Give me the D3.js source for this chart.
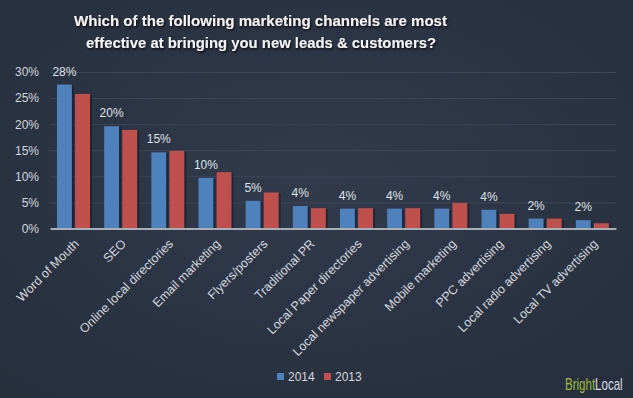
<!DOCTYPE html>
<meta charset="utf-8">
<style>
    body { margin: 0; background: #2c3546; }
    svg { display: block; }
    .grid line { stroke: #3d4759; stroke-width: 1; }
    .grid path { display: none; }
    .axis--y path, .axis--y line { display: none; }
    .axis--y text { fill: #d3d7de; font: 12px "Liberation Sans", Arial, sans-serif; }
    .axis--x path { stroke: #a9afb8; stroke-width: 2; }
    .axis--x line { display: none; }
    .axis--x text { fill: #d3d7de; font: 12.5px "Liberation Sans", Arial, sans-serif; }
    .value { fill: #dfe2e7; font: 12px "Liberation Sans", Arial, sans-serif; text-anchor: middle; }
    .title { fill: #f4f4f4; font: bold 15px "Liberation Sans", Arial, sans-serif; text-anchor: start; }
    .legend text { fill: #d3d7de; font: 12px "Liberation Sans", Arial, sans-serif; }
    .brand { font: 16px "Liberation Sans", sans-serif; }
</style>
<svg width="633" height="398"></svg>
<script src="https://d3js.org/d3.v7.min.js"></script>
<script>

    var categories = ["Word of Mouth", "SEO", "Online local directories", "Email marketing",
        "Flyers/posters", "Traditional PR", "Local Paper directories", "Local newspaper advertising",
        "Mobile marketing", "PPC advertising", "Local radio advertising", "Local TV advertising"];
    var values2014 = [27.6, 19.6, 14.6, 9.7, 5.3, 4.3, 3.8, 3.8, 3.8, 3.6, 1.9, 1.6];
    var values2013 = [25.8, 18.9, 14.9, 10.8, 6.9, 3.9, 3.9, 3.9, 4.9, 2.8, 1.9, 1.0];
    var seriesNames = ["2014", "2013"];
    var seriesColors = ["#4f81bd", "#c0504d"];
    var yTicks = [0, 5, 10, 15, 20, 25, 30];
    var titleLines = ["Which of the following marketing channels are most",
        "effective at bringing you new leads & customers?"];

    var svg = d3.select("svg"),
        width = +svg.attr("width"),
        height = +svg.attr("height"),
        margin = {top: 72, right: 17, bottom: 170, left: 50};

    var defs = svg.append("defs");
    var grad = defs.append("radialGradient").attr("id", "bg")
        .attr("cx", "50%").attr("cy", "45%").attr("r", "75%");
    grad.append("stop").attr("offset", "0%").attr("stop-color", "#313b4c");
    grad.append("stop").attr("offset", "100%").attr("stop-color", "#262e3c");

    var shadow = defs.append("filter").attr("id", "tshadow")
        .attr("x", "-5%").attr("y", "-20%").attr("width", "110%").attr("height", "150%");
    shadow.append("feDropShadow").attr("dx", 1).attr("dy", 1.5)
        .attr("stdDeviation", 0.8).attr("flood-color", "#000").attr("flood-opacity", 0.8);

    svg.append("rect").attr("width", width).attr("height", height).attr("fill", "url(#bg)");

    var x0 = d3.scaleBand().domain(categories).range([margin.left, width - margin.right]);
    var x1 = d3.scaleBand().domain(seriesNames).range([7, 40]).paddingInner(0.18);
    var y = d3.scaleLinear().domain([0, 30]).range([height - margin.bottom + 0.5, margin.top]);

    // title
    var titleWidths = [373, 350];
    svg.selectAll(".title").data(titleLines).enter().append("text")
        .attr("class", "title")
        .attr("x", function(d, i) { return i ? 86 : 74; })
        .attr("y", function(d, i) { return 26 + i * 22; })
        .attr("textLength", function(d, i) { return titleWidths[i]; })
        .attr("lengthAdjust", "spacingAndGlyphs")
        .attr("filter", "url(#tshadow)")
        .text(function(d) { return d; });

    // gridlines
    svg.append("g")
        .attr("class", "grid")
        .attr("transform", "translate(" + margin.left + ",0)")
        .call(d3.axisRight(y).tickValues(yTicks.slice(1)).tickSize(width - margin.left - margin.right).tickFormat(""));

    svg.append("g")
        .attr("class", "axis axis--y")
        .attr("transform", "translate(39,0)")
        .call(d3.axisLeft(y).tickValues(yTicks).tickSize(0).tickPadding(0).tickFormat(function(d) { return d + "%"; }));

    var rows = categories.map(function(c, i) {
        return {cat: c, vals: [{s: "2014", v: values2014[i]}, {s: "2013", v: values2013[i]}]};
    });

    var groups = svg.append("g").selectAll("g").data(rows).enter().append("g")
        .attr("transform", function(d) { return "translate(" + x0(d.cat) + ",0)"; });

    // bar shadows
    groups.selectAll(".shade").data(function(d) { return d.vals; }).enter().append("rect")
        .attr("x", function(d) { return x1(d.s) + 2; })
        .attr("y", function(d) { return y(d.v) + 1; })
        .attr("width", x1.bandwidth())
        .attr("height", function(d) { return y(0) - y(d.v) - 1; })
        .attr("fill", "#141a24").attr("opacity", 0.55);

    groups.selectAll(".bar").data(function(d) { return d.vals; }).enter().append("rect")
        .attr("class", "bar")
        .attr("x", function(d) { return x1(d.s); })
        .attr("y", function(d) { return y(d.v); })
        .attr("width", x1.bandwidth())
        .attr("height", function(d) { return y(0) - y(d.v); })
        .attr("fill", function(d, i) { return seriesColors[i]; });

    groups.append("text")
        .attr("class", "value")
        .attr("x", x1("2014") + x1.bandwidth() / 2)
        .attr("y", function(d) { return y(d.vals[0].v) - 9; })
        .text(function(d) { return d3.format(".0f")(d.vals[0].v) + "%"; });

    // x axis
    var xAxis = svg.append("g")
        .attr("class", "axis axis--x")
        .attr("transform", "translate(0," + y(0) + ")")
        .call(d3.axisBottom(x0).tickSize(0).tickSizeOuter(0));
    xAxis.selectAll("text")
        .attr("text-anchor", "end")
        .attr("dy", "0.35em")
        .attr("transform", "translate(3,13) rotate(-45)")
        .attr("y", 0).attr("x", 0);

    // legend
    var legend = svg.append("g").attr("class", "legend")
        .attr("transform", "translate(277,373)");
    var item = legend.selectAll("g").data(seriesNames).enter().append("g")
        .attr("transform", function(d, i) { return "translate(" + (i * 47) + ",0)"; });
    item.append("rect").attr("width", 7).attr("height", 7)
        .attr("fill", function(d, i) { return seriesColors[i]; });
    item.append("text").attr("x", 11).attr("y", 8).text(function(d) { return d; });

    // brand (squeezed horizontally to match the narrow logo face)
    var brand = svg.append("text").attr("class", "brand")
        .attr("transform", "translate(565,390) scale(0.72,1)");
    brand.append("tspan").attr("fill", "#9dbb3c").text("Bright");
    brand.append("tspan").attr("fill", "#dcdfe4").text("Local");

</script>
